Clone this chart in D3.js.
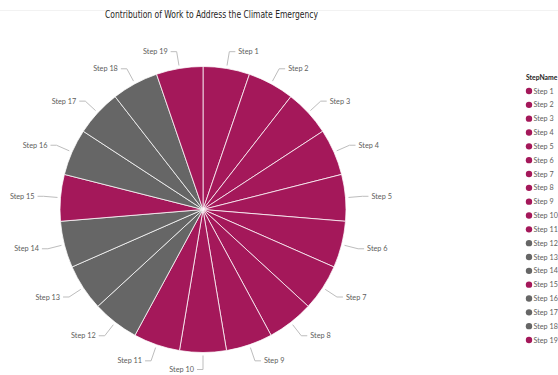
<!DOCTYPE html>
<html>
<head>
<meta charset="utf-8">
<script src="https://cdn.jsdelivr.net/npm/d3@7"></script>
<style>
  html, body { margin: 0; padding: 0; background: #fff; }
  svg { display: block; }
</style>
</head>
<body>
<svg id="chart" width="558" height="375"></svg>
<script>
// Steps of the programme and their share of the climate work
const steps = ["Step 1","Step 2","Step 3","Step 4","Step 5","Step 6","Step 7","Step 8","Step 9","Step 10",
               "Step 11","Step 12","Step 13","Step 14","Step 15","Step 16","Step 17","Step 18","Step 19"];
const values = [1,1,1,1,1,1,1,1,1,1,1,1,1,1,1,1,1,1,1];
// 1 = contributes directly, 0 = supporting step
const contributes = [1,1,1,1,1,1,1,1,1,1,1,0,0,0,1,0,0,0,1];

const title = "Contribution of Work to Address the Climate Emergency";
const legendTitle = "StepName";

const W = 558, H = 375;
const svg = d3.select("#chart");

const color = d3.scaleOrdinal().domain([1, 0]).range(["#A4185A", "#666666"]);
const labelFont = "Lato, 'Open Sans', sans-serif";

// faint header rule
svg.append("line")
  .attr("x1", 0).attr("x2", W).attr("y1", 10.5).attr("y2", 10.5)
  .attr("stroke", "#f2f2f2").attr("stroke-width", 1);

// title
svg.append("text")
  .attr("x", 105).attr("y", 18)
  .attr("font-family", "'DejaVu Sans Condensed', 'Roboto', sans-serif")
  .attr("font-size", 10)
  .attr("fill", "#252423")
  .attr("textLength", 213)
  .attr("lengthAdjust", "spacingAndGlyphs")
  .text(title);

const cx = 203, cy = 209.5, R = 143;
const data = steps.map((s, i) => ({ step: s, value: values[i], flag: contributes[i] }));

const pie = d3.pie().sort(null).value(d => d.value);
const arcs = pie(data);
const arc = d3.arc().innerRadius(0).outerRadius(R);

const g = svg.append("g").attr("transform", `translate(${cx},${cy})`);

g.selectAll("path.slice")
  .data(arcs)
  .join("path")
  .attr("class", "slice")
  .attr("d", arc)
  .attr("fill", d => color(d.data.flag))
  .attr("stroke", "#ffffff")
  .attr("stroke-opacity", 0.75)
  .attr("stroke-width", 1);

// leader lines and labels
const r1 = 146, r2 = 160, hook = 6, gap = 3;
arcs.forEach(d => {
  const a = (d.startAngle + d.endAngle) / 2;
  const sx = Math.sin(a), sy = -Math.cos(a);
  const right = a < Math.PI - 1e-6;
  const p1 = [r1 * sx, r1 * sy];
  const p2 = [r2 * sx, r2 * sy];
  const p3 = [p2[0] + (right ? hook : -hook), p2[1]];
  g.append("polyline")
    .attr("points", [p1, p2, p3].map(p => p.join(",")).join(" "))
    .attr("fill", "none")
    .attr("stroke", "#bdbdbd")
    .attr("stroke-width", 1);
  g.append("text")
    .attr("x", p3[0] + (right ? gap : -gap))
    .attr("y", p3[1])
    .attr("dy", "0.35em")
    .attr("text-anchor", right ? "start" : "end")
    .attr("font-family", labelFont)
    .attr("font-size", 7.3)
    .attr("fill", "#605E5C")
    .text(d.data.step);
});

// legend
const legend = svg.append("g");
legend.append("text")
  .attr("x", 526).attr("y", 78).attr("dy", "0.35em")
  .attr("font-family", labelFont)
  .attr("font-size", 6.8)
  .attr("font-weight", "bold")
  .attr("fill", "#252423")
  .text(legendTitle);

const ly = d3.scalePoint().domain(steps).range([91, 340]);
const items = legend.selectAll("g.item").data(data).join("g")
  .attr("class", "item")
  .attr("transform", d => `translate(0,${ly(d.step)})`);
items.append("circle")
  .attr("cx", 529).attr("cy", 0).attr("r", 3.2)
  .attr("fill", d => color(d.flag));
items.append("text")
  .attr("x", 533.5).attr("y", 0).attr("dy", "0.35em")
  .attr("font-family", labelFont)
  .attr("font-size", 7.2)
  .attr("fill", "#605E5C")
  .text(d => d.step);
</script>
</body>
</html>
